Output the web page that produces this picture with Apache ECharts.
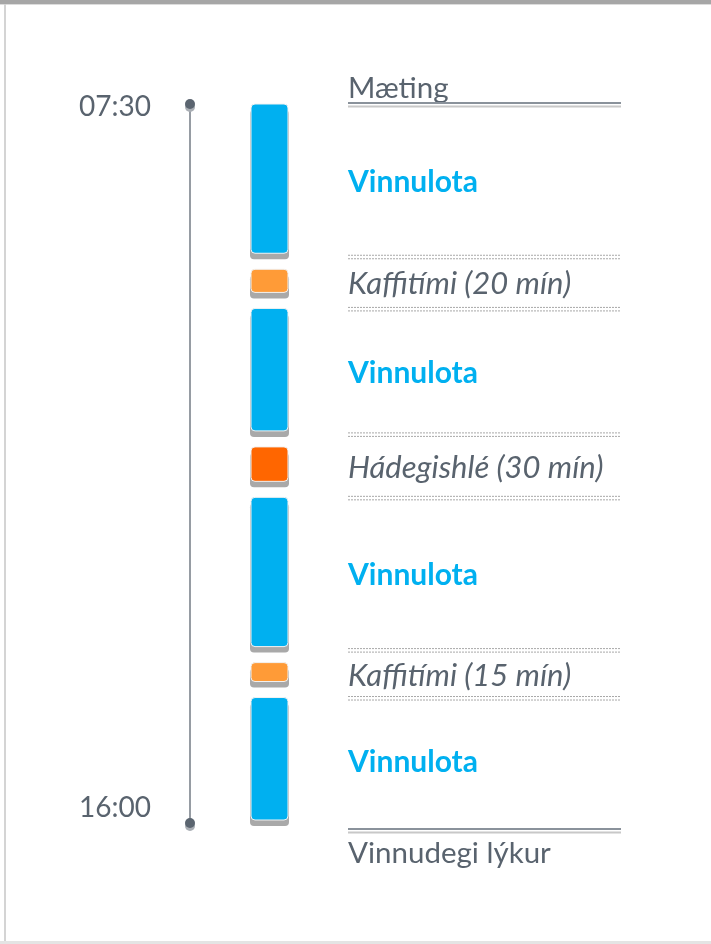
<!DOCTYPE html>
<html>
<head>
<meta charset="utf-8">
<script src="https://cdn.jsdelivr.net/npm/echarts@6/dist/echarts.min.js"></script>
<style>
  html, body { margin: 0; padding: 0; background: #fff; }
  #chart { width: 711px; height: 944px; }
</style>
</head>
<body>
<div id="chart"></div>
<script>
// time slots, minutes after 07:30
var slotStart = [0, 108, 145, 234, 279, 387, 421]
var slotEnd = [108, 145, 234, 279, 387, 421, 510]
var slotKind = ['work', 'coffee', 'work', 'lunch', 'work', 'coffee', 'work']
var slotLabel = ['Vinnulota', 'Kaffitími (20 mín)', 'Vinnulota', 'Hádegishlé (30 mín)', 'Vinnulota', 'Kaffitími (15 mín)', 'Vinnulota']
var tickValues = [0, 510]
var tickLabels = ['07:30', '16:00']
var startLabel = 'Mæting'
var endLabel = 'Vinnudegi lýkur'

var kindColor = {
  work: '#00b0f0',
  coffee: '#ff9b37',
  lunch: '#ff6600'
}
var TEXT = '#59636e'
var BAR_X = 251
var BAR_W = 37
var LABEL_X = 348
var LINE_END = 621

function doubleLine(y, dotted) {
  var style1 = dotted
    ? { stroke: '#a8a8a8', lineWidth: 1, lineDash: [2, 1] }
    : { stroke: '#8a929b', lineWidth: 2 }
  var style2 = dotted
    ? { stroke: '#a8a8a8', lineWidth: 1, lineDash: [2, 1] }
    : { stroke: '#c8c8c8', lineWidth: 2 }
  return [
    { type: 'line', shape: { x1: LABEL_X, y1: y, x2: LINE_END, y2: y }, style: style1 },
    { type: 'line', shape: { x1: LABEL_X, y1: y + 3.5, x2: LINE_END, y2: y + 3.5 }, style: style2 }
  ]
}

function renderSlot(params, api) {
  var i = params.dataIndex
  var y0 = api.coord([0, api.value(0)])[1]
  var y1 = api.coord([0, api.value(1)])[1]
  var kind = slotKind[i]
  var top, bottom
  if (kind === 'work') {
    top = y0
    bottom = y1 - 3
  } else {
    top = y0 + 13
    bottom = y1 - 16
  }
  var children = [
    {
      type: 'rect',
      shape: { x: BAR_X - 1, y: top + 6, width: BAR_W + 2, height: bottom - top, r: 4 },
      style: { fill: '#a9a9a9' }
    },
    {
      type: 'rect',
      shape: { x: BAR_X, y: top, width: BAR_W, height: bottom - top, r: 4 },
      style: { fill: kindColor[kind], stroke: '#f2f2f2', lineWidth: 1 }
    },
    {
      type: 'text',
      x: LABEL_X,
      y: (y0 + y1) / 2 + 2,
      style: {
        text: slotLabel[i],
        fill: kind === 'work' ? kindColor.work : TEXT,
        font: kind === 'work' ? 'bold 30px Lato' : 'italic 31px Lato',
        verticalAlign: 'middle'
      }
    }
  ]
  if (kind !== 'work') {
    children = children.concat(doubleLine(y0 - 1, true), doubleLine(y1 - 1, true))
  }
  if (i === 0) {
    children.push({
      type: 'text', x: LABEL_X, y: y0 - 16,
      style: { text: startLabel, fill: TEXT, font: '29.5px Lato', verticalAlign: 'middle' }
    })
    children = children.concat(doubleLine(y0 - 1, false))
  }
  if (i === slotLabel.length - 1) {
    children = children.concat(doubleLine(y1 + 6, false))
    children.push({
      type: 'text', x: LABEL_X, y: y1 + 30,
      style: { text: endLabel, fill: TEXT, font: '29.5px Lato', verticalAlign: 'middle' }
    })
  }
  return { type: 'group', children: children }
}

function renderDot(params, api) {
  var p = api.coord([0, api.value(0)])
  return {
    type: 'group',
    children: [
      { type: 'circle', shape: { cx: p[0], cy: p[1] + 3, r: 5 }, style: { fill: '#a9aeb4' } },
      { type: 'circle', shape: { cx: p[0], cy: p[1], r: 5 }, style: { fill: '#5b6570' } }
    ]
  }
}

var chart = echarts.init(document.getElementById('chart'))
chart.setOption({
  animation: false,
  backgroundColor: '#fff',
  graphic: [
    { type: 'rect', shape: { x: 0, y: 0, width: 711, height: 4 }, style: { fill: '#a6a6a6' } },
    { type: 'rect', shape: { x: 0, y: 4, width: 711, height: 1 }, style: { fill: '#dcdcdc' } },
    { type: 'rect', shape: { x: 4, y: 4, width: 2, height: 938 }, style: { fill: '#d4d4d4' } },
    { type: 'rect', shape: { x: 0, y: 941, width: 711, height: 3 }, style: { fill: '#e4e4e4' } }
  ],
  grid: { left: 190, right: 20, top: 104, bottom: 121 },
  xAxis: { type: 'value', min: 0, max: 1, show: false },
  yAxis: {
    type: 'value',
    min: 0,
    max: 510,
    interval: 510,
    inverse: true,
    axisLine: { show: true, lineStyle: { color: '#737b85', width: 1.5 } },
    axisTick: { show: false },
    splitLine: { show: false },
    axisLabel: {
      margin: 111,
      align: 'left',
      color: TEXT,
      fontFamily: 'Lato',
      fontSize: 28,
      padding: [5, 0, 0, 0],
      formatter: function(v) {
        var k = tickValues.indexOf(v)
        if (k === tickValues.length - 1) return '{up|' + tickLabels[k] + '}'
        return tickLabels[k]
      },
      rich: {
        up: { padding: [0, 0, 36, 0], fontSize: 28, fontFamily: 'Lato', color: TEXT }
      }
    }
  },
  series: [
    {
      type: 'custom',
      renderItem: renderSlot,
      data: slotStart.map(function(s, i) { return [s, slotEnd[i]] })
    },
    {
      type: 'custom',
      renderItem: renderDot,
      data: tickValues.map(function(v) { return [v] })
    }
  ]
})
</script>
</body>
</html>
